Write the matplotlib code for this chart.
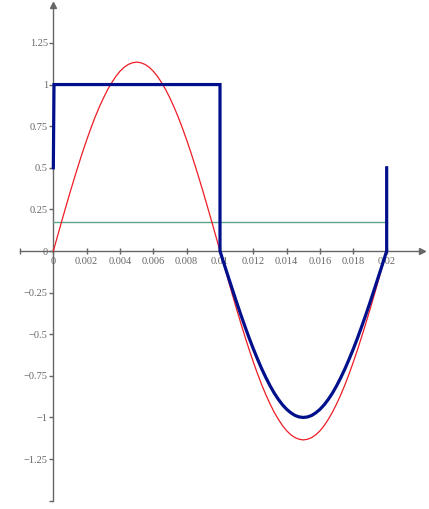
import matplotlib
matplotlib.use("Agg")
import matplotlib.pyplot as plt

# ---- data ----
t = [i * 0.00025 for i in range(81)]  # time samples, 0 .. 0.02
red_q = [0.000, 0.089, 0.178, 0.265, 0.351, 0.434, 0.515, 0.593, 0.667, 0.737,
         0.803, 0.863, 0.918, 0.968, 1.011, 1.049, 1.080, 1.104, 1.121, 1.131, 1.135]
red_vals = (red_q + red_q[-2::-1]
            + [-v for v in red_q[1:]] + [-v for v in red_q[-2::-1]])

blue_q = [0.000, 0.079, 0.156, 0.233, 0.309, 0.383, 0.454, 0.523, 0.588, 0.649,
          0.707, 0.760, 0.809, 0.853, 0.891, 0.924, 0.951, 0.972, 0.988, 0.997, 1.000]
blue_x = [0.0, 0.00004, 0.01] + t[40:] + [0.02]
blue_y = ([0.5, 1.0, 1.0] + [-v for v in blue_q] + [-v for v in blue_q[-2::-1]] + [0.5])

green_x = [0.0, 0.02]
green_y = [0.176, 0.176]

xticks = [0, 0.002, 0.004, 0.006, 0.008, 0.01, 0.012, 0.014, 0.016, 0.018, 0.02]
xticklabels = ["0", "0.002", "0.004", "0.006", "0.008", "0.01", "0.012", "0.014", "0.016", "0.018", "0.02"]
yticks = [-1.25, -1, -0.75, -0.5, -0.25, 0, 0.25, 0.5, 0.75, 1, 1.25]
yticklabels = ["\u22121.25", "\u22121", "\u22120.75", "\u22120.5", "\u22120.25", "0", "0.25", "0.5", "0.75", "1", "1.25"]

# ---- figure ----
fig = plt.figure(figsize=(4.29, 5.09), dpi=100)
ax = fig.add_axes([0, 0, 1, 1])
ax.set_xlim(-0.0032, 0.02254)
ax.set_ylim(-1.550, 1.508)

axis_col = "#666666"
font = dict(family="Liberation Serif", size=7.5, color="#666666")

ax.plot(green_x, green_y, color="#5fa58a", lw=1.0, zorder=2)
ax.plot(t, red_vals, color="#ee1c25", lw=0.9, zorder=3)
ax.plot(blue_x, blue_y, color="#00108c", lw=2.3, zorder=4, solid_joinstyle="miter")

for s in ["top", "right"]:
    ax.spines[s].set_visible(False)
ax.spines["left"].set_position(("data", 0))
ax.spines["bottom"].set_position(("data", 0))
ax.spines["left"].set_bounds(-1.5, 1.47)
ax.spines["bottom"].set_bounds(-0.002, 0.0219)
for s in ["left", "bottom"]:
    ax.spines[s].set_color(axis_col)
    ax.spines[s].set_linewidth(1.0)
    ax.spines[s].set_zorder(1)

# arrow heads
ax.plot([0.0221], [0], marker=">", color=axis_col, markersize=5, clip_on=False, zorder=1)
ax.plot([0], [1.478], marker="^", color=axis_col, markersize=5, clip_on=False, zorder=1)

ax.set_xticks([-0.002] + xticks)
ax.set_xticklabels([""] + xticklabels, fontdict=font)
ax.set_yticks([-1.5] + yticks)
ax.set_yticklabels([""] + yticklabels, fontdict=font)
ax.tick_params(axis="x", direction="inout", length=4, width=1, color=axis_col, pad=2)
ax.tick_params(axis="y", direction="out", length=3, width=1, color=axis_col, pad=1)
for lab in ax.get_xticklabels() + ax.get_yticklabels():
    lab.set_family("Liberation Serif")
    lab.set_color("#666666")
    lab.set_fontsize(7.5)

fig.savefig("out.png", dpi=100)
